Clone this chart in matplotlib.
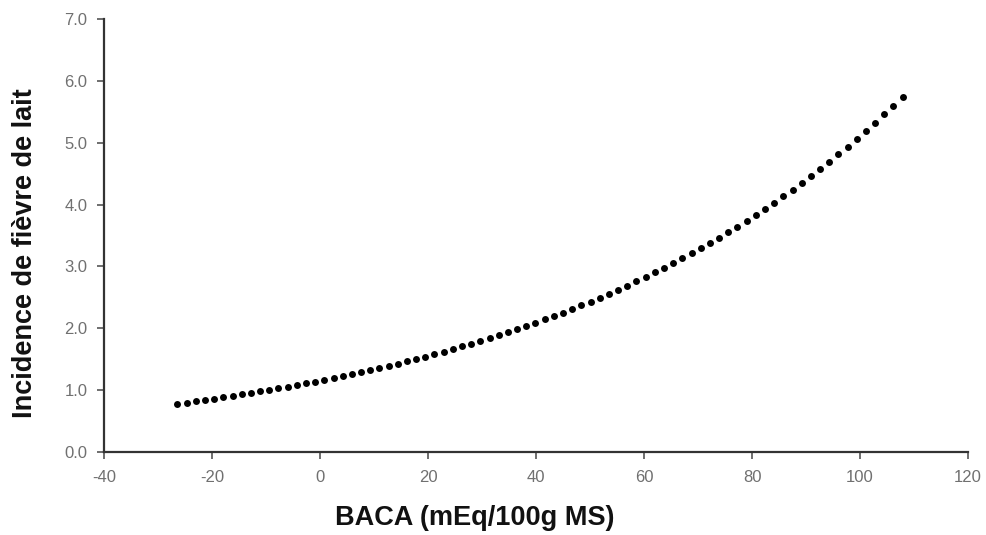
import matplotlib
matplotlib.use("Agg")
import matplotlib.pyplot as plt

baca = [-26.4, -24.7, -23.0, -21.3, -19.6, -17.9, -16.2, -14.5, -12.8, -11.1,
        -9.4, -7.7, -6.0, -4.3, -2.6, -0.9, 0.8, 2.5, 4.2, 5.9,
        7.6, 9.3, 11.0, 12.7, 14.4, 16.1, 17.8, 19.5, 21.2, 22.9,
        24.6, 26.3, 28.0, 29.7, 31.4, 33.1, 34.8, 36.5, 38.2, 39.9,
        41.6, 43.3, 45.0, 46.7, 48.4, 50.1, 51.8, 53.5, 55.2, 56.9,
        58.6, 60.3, 62.0, 63.7, 65.4, 67.1, 68.8, 70.5, 72.2, 73.9,
        75.6, 77.3, 79.0, 80.7, 82.4, 84.1, 85.8, 87.5, 89.2, 90.9,
        92.6, 94.3, 96.0, 97.7, 99.4, 101.1, 102.8, 104.5, 106.2, 107.9]
incidence = [0.780, 0.800, 0.820, 0.841, 0.863, 0.885, 0.908, 0.931, 0.955, 0.979,
             1.004, 1.030, 1.056, 1.083, 1.111, 1.139, 1.169, 1.199, 1.229, 1.261,
             1.293, 1.326, 1.360, 1.395, 1.430, 1.467, 1.504, 1.543, 1.582, 1.623,
             1.664, 1.707, 1.751, 1.795, 1.841, 1.888, 1.937, 1.986, 2.037, 2.089,
             2.143, 2.197, 2.254, 2.311, 2.370, 2.431, 2.493, 2.557, 2.623, 2.690,
             2.759, 2.829, 2.902, 2.976, 3.052, 3.130, 3.210, 3.292, 3.377, 3.463,
             3.552, 3.643, 3.736, 3.832, 3.930, 4.030, 4.133, 4.239, 4.348, 4.459,
             4.573, 4.690, 4.810, 4.933, 5.060, 5.189, 5.322, 5.458, 5.598, 5.741]
xticks = [-40, -20, 0, 20, 40, 60, 80, 100, 120]
yticks = [0.0, 1.0, 2.0, 3.0, 4.0, 5.0, 6.0, 7.0]

plt.rcParams['font.family'] = ['Liberation Sans', 'DejaVu Sans']

fig = plt.figure(figsize=(9.87, 5.35), dpi=100)
ax = fig.add_axes([104/987, 83/535, 864/987, 433/535])

ax.plot(baca, incidence, linestyle='none', marker='o', markersize=5,
        color='black', markeredgewidth=0)

ax.set_xlim(-40, 120)
ax.set_ylim(0, 7)
ax.set_xticks(xticks)
ax.set_xticklabels([str(v) for v in xticks])
ax.set_yticks(yticks)
ax.set_yticklabels([f"{v:.1f}" for v in yticks])

for s in ['top', 'right']:
    ax.spines[s].set_visible(False)
for s in ['left', 'bottom']:
    ax.spines[s].set_color('#333333')
    ax.spines[s].set_linewidth(1.6)

ax.tick_params(axis='both', direction='out', length=5, width=1.2,
               color='#555555', labelcolor='#707070', labelsize=12)
ax.tick_params(axis='x', pad=8)
ax.tick_params(axis='y', pad=7)

ax.set_xlabel("BACA (mEq/100g MS)", fontsize=19.5, fontweight='bold',
              color='#111111')
ax.set_ylabel("Incidence de fièvre de lait", fontsize=19.5, fontweight='bold',
              color='#111111')
ax.xaxis.set_label_coords((475 - 104) / 864, (452 - 505) / 433)
ax.yaxis.set_label_coords((38 - 104) / 864, (452 - 253) / 433)

fig.savefig("out.png", dpi=100)
